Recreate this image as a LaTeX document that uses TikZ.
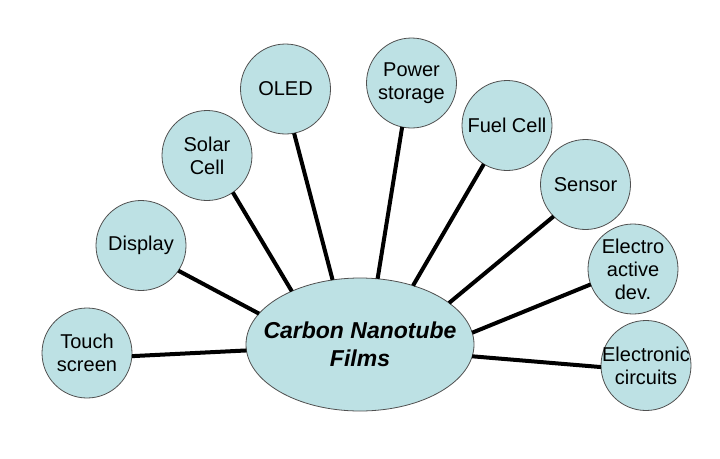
\documentclass[tikz,border=0pt]{standalone}
\usepackage{fontspec}
\setmainfont{Liberation Sans}
\usetikzlibrary{shapes.geometric}
\definecolor{bubble}{HTML}{BDE1E4}
\definecolor{rim}{HTML}{505050}

\begin{document}
\begin{tikzpicture}[x=1pt, y=-1pt,
  app/.style={circle, draw=rim, line width=0.8pt, fill=bubble, minimum size=90pt,
    inner sep=-5pt, outer sep=0pt, align=center, font=\fontsize{20}{23}\selectfont},
  hub/.style={ellipse, draw=rim, line width=0.8pt, fill=bubble, minimum width=228pt,
    minimum height=133pt, inner sep=0pt, outer sep=0pt},
  link/.style={line width=4pt}]
\useasboundingbox (0,0) rectangle (720,458);
\node[hub, label={[align=center, font=\fontsize{23}{28}\selectfont\bfseries\itshape]center:Carbon Nanotube\\Films}] (cnt) at (360,344.5) {};
\node[app] (touch) at (87,353) {Touch\\screen};
\node[app] (display) at (141,245.5) {Display};
\node[app] (solar) at (207,155.5) {Solar\\Cell};
\node[app] (oled) at (285.5,89) {OLED};
\node[app] (power) at (411.5,83) {Power\\storage};
\node[app] (fuel) at (507,125.5) {Fuel Cell};
\node[app] (sensor) at (585.5,184.5) {Sensor};
\node[app] (electro) at (633,269) {Electro\\active\\dev.};
\node[app] (circuits) at (646,365.5) {Electronic\\circuits};
\draw[link] (touch.-4) -- (cnt.183);
\draw[link] (display.-34) -- (cnt.163);
\draw[link] (solar.-55) -- (cnt.142);
\draw[link] (oled.-79) -- (cnt.113);
\draw[link] (power.258) -- (cnt.75);
\draw[link] (fuel.239) -- (cnt.48);
\draw[link] (sensor.225) -- (cnt.25);
\draw[link] (electro.200) -- (cnt.6);
\draw[link] (circuits.182) -- (cnt.354);
\end{tikzpicture}
\end{document}
